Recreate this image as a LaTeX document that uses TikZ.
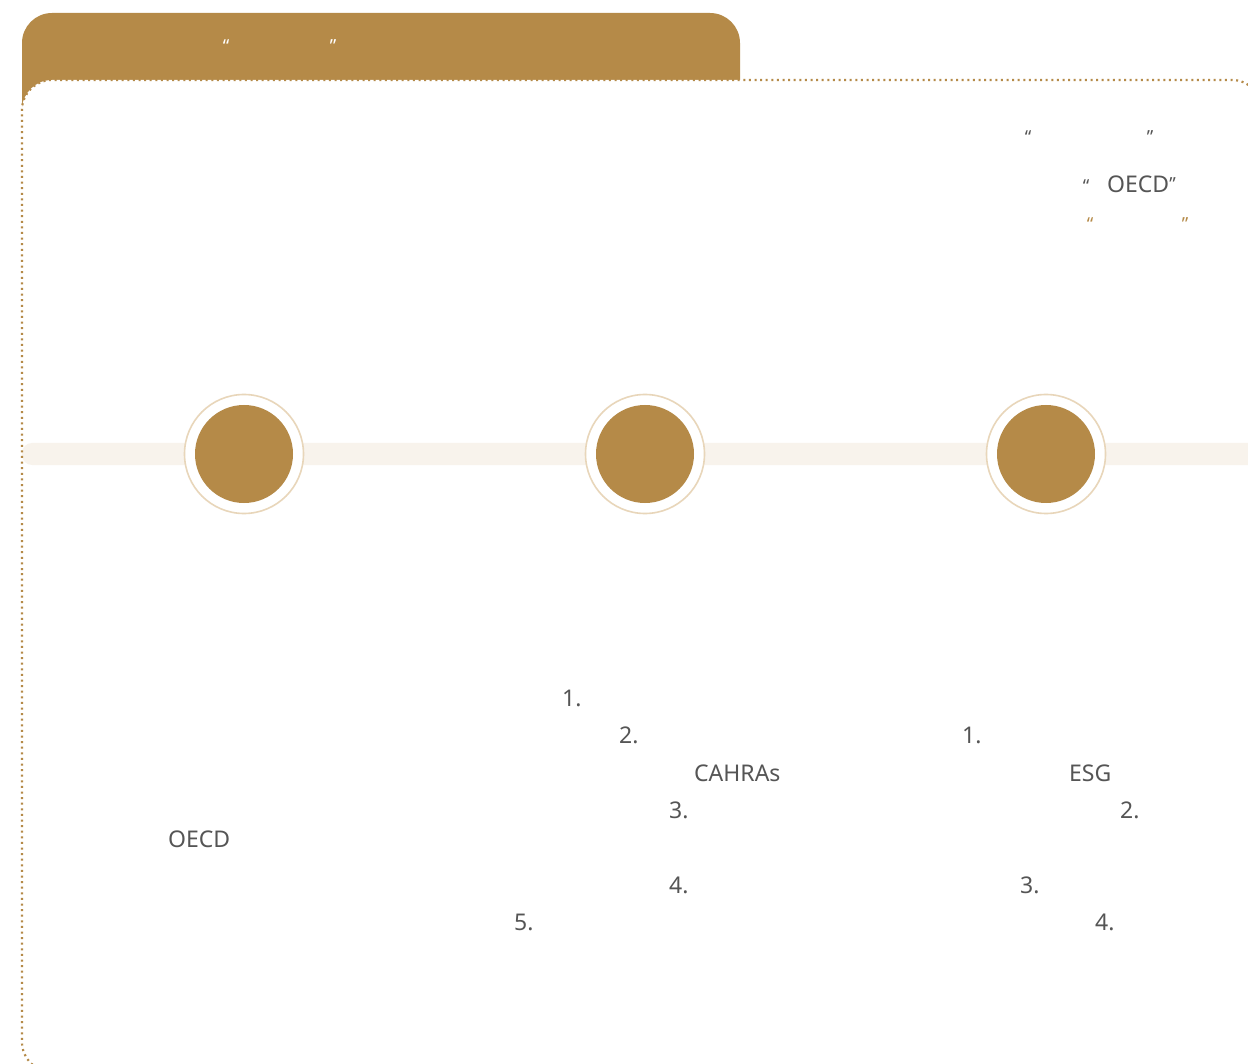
\documentclass[tikz,border=0pt]{standalone}
\usepackage{fontspec}
\setmainfont{Noto Sans}
\definecolor{tabc}{HTML}{B58A48}
\definecolor{ringc}{HTML}{E8D6BA}
\definecolor{barc}{HTML}{F8F3EC}
\definecolor{txtc}{HTML}{555555}
\tikzset{
  lbl/.style={inner sep=0pt, text=txtc, font=\fontsize{23}{26}\selectfont},
  qt/.style={inner sep=0pt, anchor=north, font=\fontsize{18}{20}\selectfont},
  outerring/.style={draw=ringc, line width=1.6pt, fill=white},
  innerdot/.style={fill=tabc},
  framestroke/.style={draw=tabc, line width=2.2pt, dash pattern=on 2pt off 3.6pt}
}
\begin{document}
\begin{tikzpicture}[x=1pt,y=-1pt]
\useasboundingbox (0,0) rectangle (1248,1064);
\clip (0,0) rectangle (1248,1064);
\fill[white] (0,0) rectangle (1248,1064);
% tab
\fill[tabc, rounded corners=30] (22,13) rectangle (740,250);
% frame fill
\fill[white, rounded corners=30] (22,600) -- (22,80) -- (1262,80) -- (1262,1072) -- (22,1072) -- cycle;
% timeline bar
\fill[barc, rounded corners=10] (22,443) rectangle (1270,465);
% milestones
\foreach \n/\cx in {a/244,b/645,c/1046}{
  \draw[outerring] (\cx,454) circle[radius=59.5];
  \fill[innerdot] (\cx,454) circle[radius=49];
}
% dotted frame
\draw[framestroke, rounded corners=30] (22,600) -- (22,80) -- (1262,80) -- (1262,1072) -- (22,1072) -- cycle;
% tab quotes
\node[qt, text=white] (tq1) at (226,39) {“};
\node[qt, text=white] (tq2) at (333,39) {”};
% top-right texts
\node[qt, text=txtc] (rq1) at (1028,130) {“};
\node[qt, text=txtc] (rq2) at (1150,130) {”};
\node[qt, text=txtc] (rq3) at (1086,179) {“};
\node[lbl, anchor=west] (oecdtop) at (1107,184) {OECD\raisebox{2pt}{\fontsize{18}{20}\selectfont ”}};
\node[qt, text=tabc] (bq1) at (1090,217) {“};
\node[qt, text=tabc] (bq2) at (1185,217) {”};
% left column
\node[lbl, anchor=west] (oecdleft) at (168,839) {OECD};
% middle column
\node[lbl, anchor=west] (m1) at (562,698) {1.};
\node[lbl, anchor=west] (m2) at (619,735) {2.};
\node[lbl, anchor=west] (m3) at (694,773) {CAHRAs};
\node[lbl, anchor=west] (m4) at (669,810) {3.};
\node[lbl, anchor=west] (m5) at (669,885) {4.};
\node[lbl, anchor=west] (m6) at (514,922) {5.};
% right column
\node[lbl, anchor=west] (r1) at (962,735) {1.};
\node[lbl, anchor=west] (r2) at (1069,773) {ESG};
\node[lbl, anchor=west] (r3) at (1120,810) {2.};
\node[lbl, anchor=west] (r4) at (1020,885) {3.};
\node[lbl, anchor=west] (r5) at (1095,922) {4.};
\end{tikzpicture}
\end{document}
